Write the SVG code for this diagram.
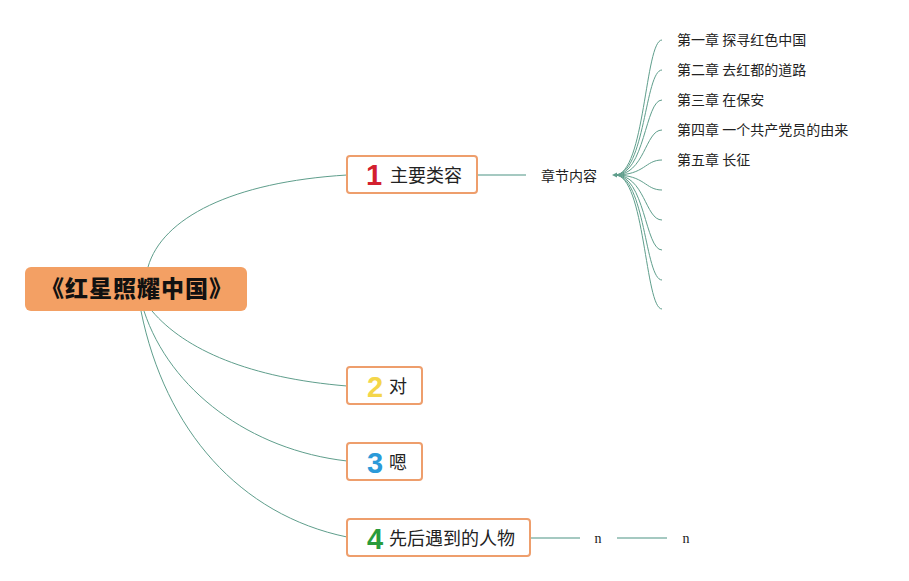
<svg xmlns="http://www.w3.org/2000/svg" width="909" height="581" viewBox="0 0 909 581">
<style>
.bg{fill:#ffffff}
.c{fill:none;stroke:#5f9e8c;stroke-width:1}
.c2{fill:none;stroke:#a5c9c1;stroke-width:2}
.box{fill:#ffffff;stroke:#ee9e6c;stroke-width:2}
.root{fill:#f3a064}
.rt{font-family:"Noto Sans CJK SC","Noto Sans",sans-serif;font-size:23px;font-weight:900;fill:#111111}
.t{font-family:"Noto Sans CJK SC","Noto Sans",sans-serif;font-size:18px;fill:#222222}
.s{font-family:"Noto Sans CJK SC","Noto Sans",sans-serif;font-size:14px;fill:#222222}
.num{font-family:"Liberation Sans",Arial,sans-serif;font-size:29px;font-weight:bold}
.n{font-family:"Liberation Serif",serif;font-size:14px;fill:#222222}
</style>
<rect class="bg" x="0" y="0" width="909" height="581"/>
<g id="connectors">
<path class="c" d="M148,267 C162,218 232,182 347,175"/>
<path class="c" d="M152,311 C185,350 250,378 347,386"/>
<path class="c" d="M144,311 C170,390 250,450 347,461"/>
<path class="c" d="M141,311 C165,430 240,515 347,537"/>
<path class="c2" d="M477,175 L526,175"/>
<path class="c2" d="M530,538 L580,538"/>
<path class="c2" d="M617,538 L667,538"/>
<path d="M612,175 L617,172.5 L617,177.5 Z" fill="#5f9e8c"/>
<path class="c" d="M615,175 C645,175 645,40 662,40"/>
<path class="c" d="M615,175 C645,175 645,70 662,70"/>
<path class="c" d="M615,175 C645,175 645,100 662,100"/>
<path class="c" d="M615,175 C645,175 645,130 662,130"/>
<path class="c" d="M615,175 C645,175 645,160 662,160"/>
<path class="c" d="M615,175 C645,175 645,190 662,190"/>
<path class="c" d="M615,175 C645,175 645,220 662,220"/>
<path class="c" d="M615,175 C645,175 645,250 662,250"/>
<path class="c" d="M615,175 C645,175 645,280 662,280"/>
<path class="c" d="M615,175 C645,175 645,309 662,309"/>
</g>
<g id="root">
<rect class="root" x="25" y="267" width="222" height="44" rx="6"/>
<text class="rt" x="137" y="297" text-anchor="middle" letter-spacing="1">《红星照耀中国》</text>
</g>
<g id="node1">
<rect class="box" x="347" y="156" width="130" height="37" rx="3"/>
<text class="num" x="374" y="185" text-anchor="middle" fill="#d3202f">1</text>
<text class="t" x="390" y="182">主要类容</text>
</g>
<g id="node2">
<rect class="box" x="347" y="367" width="75" height="37" rx="3"/>
<text class="num" x="375" y="397" text-anchor="middle" fill="#f4d64a">2</text>
<text class="t" x="389" y="393">对</text>
</g>
<g id="node3">
<rect class="box" x="347" y="443" width="75" height="37" rx="3"/>
<text class="num" x="375" y="473" text-anchor="middle" fill="#2b9ad9">3</text>
<text class="t" x="389" y="469">嗯</text>
</g>
<g id="node4">
<rect class="box" x="347" y="519" width="183" height="37" rx="3"/>
<text class="num" x="375" y="549" text-anchor="middle" fill="#2a9b3b">4</text>
<text class="t" x="389" y="545">先后遇到的人物</text>
</g>
<g id="chapters">
<text class="s" x="569" y="181" text-anchor="middle">章节内容</text>
</g>
<g id="ch1"><text class="s" x="677" y="45">第一章 探寻红色中国</text></g>
<g id="ch2"><text class="s" x="677" y="75">第二章 去红都的道路</text></g>
<g id="ch3"><text class="s" x="677" y="105">第三章 在保安</text></g>
<g id="ch4"><text class="s" x="677" y="135">第四章 一个共产党员的由来</text></g>
<g id="ch5"><text class="s" x="677" y="165">第五章 长征</text></g>
<g id="n1"><text class="n" x="598" y="543" text-anchor="middle">n</text></g>
<g id="n2"><text class="n" x="686" y="543" text-anchor="middle">n</text></g>
</svg>
